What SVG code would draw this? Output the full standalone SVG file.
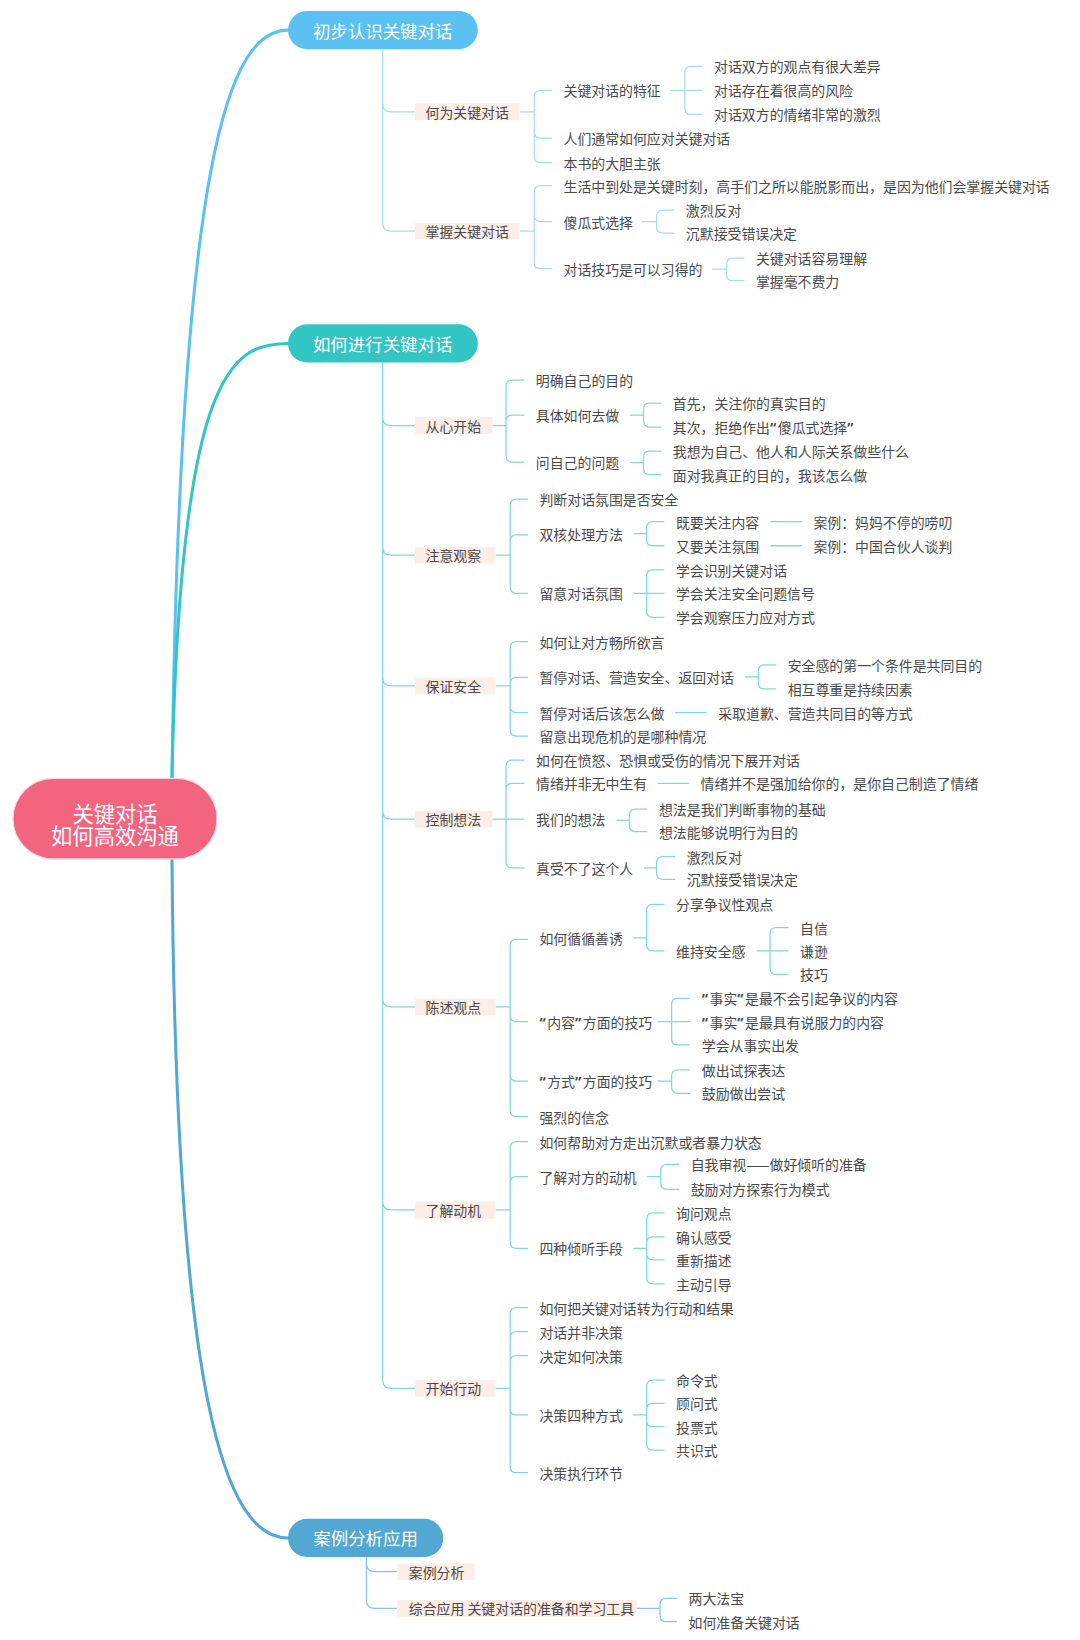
<svg xmlns="http://www.w3.org/2000/svg" width="1080" height="1640" viewBox="0 0 1080 1640">
<style>
text{font-family:"Noto Sans CJK SC","Noto Sans",sans-serif;dominant-baseline:central}
.t{font-size:13.3px;fill:#4a4a4a}
.q{font-family:"Noto Sans","Noto Sans CJK SC",sans-serif;letter-spacing:1.5px;font-weight:bold}
.tp{font-size:16.7px;fill:#ffffff;text-anchor:middle}
.tr{font-size:20.4px;fill:#ffffff;text-anchor:middle}
.lb{fill:#FCEDE7}
.m{fill:none;stroke-width:2.9;stroke-linecap:round}
.c{fill:none;stroke-width:1.2}
.c1{stroke:#A6DBF6}
.c2{stroke:#83D7D4}
.c3{stroke:#8BC3E3}
</style>
<rect width="1080" height="1640" fill="#ffffff"/>
<g transform="scale(1.0455)">
<g id="connectors">
<path class="m" stroke="#5AC1F2" d="M164.5,745 C172.2,143.5 220,28.8 275.5,28.8"/>
<path class="m" stroke="#52A7D3" d="M164.5,821.5 C168.3,1339 215.2,1471 275.5,1471"/>
<path class="m" stroke="#33C5C3" d="M164.5,745 C172.2,353.9 221.9,328.5 275.5,328.5"/>
<path class="c c1" d="M366,47 V213 Q366,221 374,221 H397 M366,99 Q366,107 374,107 H397"/>
<path class="c c1" d="M497,107 H511 M511,107 V92.5 Q511,86.5 517,86.5 H528 M511,107 V126 Q511,132 517,132 H528 M511,107 V149.5 Q511,155.5 517,155.5 H528"/>
<path class="c c1" d="M641,86.5 H655 M655,86.5 V69.5 Q655,63.5 661,63.5 H672 M655,86.5 H672 M655,86.5 V103.5 Q655,109.5 661,109.5 H672"/>
<path class="c c1" d="M497,221 H511 M511,221 V183.5 Q511,177.5 517,177.5 H528 M511,221 V206 Q511,212 517,212 H528 M511,221 V251 Q511,257 517,257 H528"/>
<path class="c c1" d="M614,212 H628 M628,212 V207 Q628,201 634,201 H645 M628,212 V217 Q628,223 634,223 H645"/>
<path class="c c1" d="M681,257.5 H695 M695,257.5 V253 Q695,247 701,247 H712 M695,257.5 V262.5 Q695,268.5 701,268.5 H712"/>
<path class="c c2" d="M366,347 V1320 Q366,1328 374,1328 H397 M366,399 Q366,407 374,407 H397 M366,523 Q366,531 374,531 H397 M366,648 Q366,656 374,656 H397 M366,775.5 Q366,783.5 374,783.5 H397 M366,955 Q366,963 374,963 H397 M366,1149.3 Q366,1157.3 374,1157.3 H397"/>
<path class="c c2" d="M471,407 H484 M484,407 V369.5 Q484,363.5 490,363.5 H501.5 M484,407 V403 Q484,397 490,397 H501.5 M484,407 V436 Q484,442 490,442 H501.5"/>
<path class="c c2" d="M602.5,397 H615.5 M615.5,397 V391.5 Q615.5,385.5 621.5,385.5 H632.5 M615.5,397 V402.5 Q615.5,408.5 621.5,408.5 H632.5"/>
<path class="c c2" d="M602.5,442.5 H615.5 M615.5,442.5 V437.5 Q615.5,431.5 621.5,431.5 H632.5 M615.5,442.5 V448 Q615.5,454 621.5,454 H632.5"/>
<path class="c c2" d="M474,531 H488 M488,531 V483.3 Q488,477.3 494,477.3 H505 M488,531 V517.7 Q488,511.7 494,511.7 H505 M488,531 V561.5 Q488,567.5 494,567.5 H505"/>
<path class="c c2" d="M606,510.5 H618.5 M618.5,510.5 V505 Q618.5,499 624.5,499 H635.5 M618.5,510.5 V516 Q618.5,522 624.5,522 H635.5 M737,499 H767 M737,522 H767"/>
<path class="c c2" d="M606,567.5 H618.5 M618.5,567.5 V551 Q618.5,545 624.5,545 H635.5 M618.5,567.5 H635.5 M618.5,567.5 V584.4 Q618.5,590.4 624.5,590.4 H635.5"/>
<path class="c c2" d="M474,656 H488 M488,656 V619.7 Q488,613.7 494,613.7 H505 M488,656 V653.9 Q488,647.9 494,647.9 H505 M488,656 V675.6 Q488,681.6 494,681.6 H505 M488,656 V698 Q488,704 494,704 H505"/>
<path class="c c2" d="M712.6,647.5 H725.3 M725.3,647.5 V642 Q725.3,636 731.3,636 H742.4 M725.3,647.5 V653 Q725.3,659 731.3,659 H742.4 M645.6,681.6 H676"/>
<path class="c c2" d="M471,783.5 H484 M484,783.5 V733 Q484,727 490,727 H501.7 M484,783.5 V755.3 Q484,749.3 490,749.3 H501.7 M484,783.5 H501.7 M484,783.5 V824 Q484,830 490,830 H501.7 M629,749.3 H659"/>
<path class="c c2" d="M589.8,784.7 H602 M602,784.7 V780 Q602,774 608,774 H619.3 M602,784.7 V789.5 Q602,795.5 608,795.5 H619.3"/>
<path class="c c2" d="M616,830.2 H628 M628,830.2 V825.4 Q628,819.4 634,819.4 H645.8 M628,830.2 V835 Q628,841 634,841 H645.8"/>
<path class="c c2" d="M474,963 H488 M488,963 V904.4 Q488,898.4 494,898.4 H505 M488,963 V971.2 Q488,977.2 494,977.2 H505 M488,963 V1028 Q488,1034 494,1034 H505 M488,963 V1062 Q488,1068 494,1068 H505"/>
<path class="c c2" d="M605.6,897 H618.5 M618.5,897 V871 Q618.5,865 624.5,865 H635.6 M618.5,897 V903.6 Q618.5,909.6 624.5,909.6 H635.6"/>
<path class="c c2" d="M723.7,909.6 H736.5 M736.5,909.6 V893.3 Q736.5,887.3 742.5,887.3 H754.2 M736.5,909.6 H754.2 M736.5,909.6 V926 Q736.5,932 742.5,932 H754.2"/>
<path class="c c2" d="M629,977.2 H642.4 M642.4,977.2 V961 Q642.4,955 648.4,955 H660.2 M642.4,977.2 H660.2 M642.4,977.2 V993.5 Q642.4,999.5 648.4,999.5 H660.2"/>
<path class="c c2" d="M629,1034 H642.4 M642.4,1034 V1029.4 Q642.4,1023.4 648.4,1023.4 H660.2 M642.4,1034 V1039.7 Q642.4,1045.7 648.4,1045.7 H660.2"/>
<path class="c c2" d="M474,1157.3 H488 M488,1157.3 V1098 Q488,1092 494,1092 H505 M488,1157.3 V1131.5 Q488,1125.5 494,1125.5 H505 M488,1157.3 V1188 Q488,1194 494,1194 H505"/>
<path class="c c2" d="M619,1125.5 H632 M632,1125.5 V1119.7 Q632,1113.7 638,1113.7 H649.6 M632,1125.5 V1131.6 Q632,1137.6 638,1137.6 H649.6"/>
<path class="c c2" d="M605.6,1194 H618.5 M618.5,1194 V1166 Q618.5,1160 624.5,1160 H635.6 M618.5,1194 V1189 Q618.5,1183 624.5,1183 H635.6 M618.5,1194 V1199 Q618.5,1205 624.5,1205 H635.6 M618.5,1194 V1222 Q618.5,1228 624.5,1228 H635.6"/>
<path class="c c2" d="M474,1328 H488 M488,1328 V1256.8 Q488,1250.8 494,1250.8 H505 M488,1328 V1279.7 Q488,1273.7 494,1273.7 H505 M488,1328 V1302.7 Q488,1296.7 494,1296.7 H505 M488,1328 V1347.4 Q488,1353.4 494,1353.4 H505 M488,1328 V1402.6 Q488,1408.6 494,1408.6 H505"/>
<path class="c c2" d="M605.6,1353.4 H618.5 M618.5,1353.4 V1326 Q618.5,1320 624.5,1320 H635.6 M618.5,1353.4 V1348.3 Q618.5,1342.3 624.5,1342.3 H635.6 M618.5,1353.4 V1358.6 Q618.5,1364.6 624.5,1364.6 H635.6 M618.5,1353.4 V1381 Q618.5,1387 624.5,1387 H635.6"/>
<path class="c c3" d="M350.5,1488 V1530.3 Q350.5,1538.3 358.5,1538.3 H380 M350.5,1495.3 Q350.5,1503.3 358.5,1503.3 H380"/>
<path class="c c3" d="M609,1538.3 H631.3 M631.3,1538.3 V1534.8 Q631.3,1528.8 637.3,1528.8 H647.6 M631.3,1538.3 V1545.1 Q631.3,1551.1 637.3,1551.1 H647.6"/>
</g>
<g id="root"><rect x="12.5" y="744.5" width="195" height="77" rx="38.5" fill="#F3657F" stroke="#fbd3db" stroke-width="1"/><text class="tr" x="110" y="776.2"><tspan x="110">关键对话</tspan><tspan x="110" dy="21.3">如何高效沟通</tspan></text></g>
<g id="topic1"><rect x="275.5" y="10.5" width="181.5" height="36.5" rx="18.25" fill="#5AC1F2"/><text class="tp" x="366" y="29">初步认识关键对话</text></g>
<g id="topic2"><rect x="275.5" y="310.2" width="181.5" height="36.6" rx="18.3" fill="#33C5C3"/><text class="tp" x="366" y="328.7">如何进行关键对话</text></g>
<g id="topic3"><rect x="275.5" y="1452.7" width="148.5" height="36.6" rx="18.3" fill="#52A7D3"/><text class="tp" x="349.7" y="1471">案例分析应用</text></g>
<g id="l-a"><rect class="lb" x="397" y="99" width="100" height="16"/><text class="t" x="407" y="107">何为关键对话</text></g>
<g id="l-b"><rect class="lb" x="397" y="213" width="100" height="16"/><text class="t" x="407" y="221">掌握关键对话</text></g>
<g id="l-c"><rect class="lb" x="397" y="399" width="74" height="16"/><text class="t" x="407" y="407">从心开始</text></g>
<g id="l-d"><rect class="lb" x="397" y="523" width="77" height="16"/><text class="t" x="407" y="531">注意观察</text></g>
<g id="l-e"><rect class="lb" x="397" y="648" width="77" height="16"/><text class="t" x="407" y="656">保证安全</text></g>
<g id="l-f"><rect class="lb" x="397" y="775.5" width="74" height="16"/><text class="t" x="407" y="783.5">控制想法</text></g>
<g id="l-g"><rect class="lb" x="397" y="955" width="77" height="16"/><text class="t" x="407" y="963">陈述观点</text></g>
<g id="l-h"><rect class="lb" x="397" y="1149.3" width="77" height="16"/><text class="t" x="407" y="1157.3">了解动机</text></g>
<g id="l-i"><rect class="lb" x="397" y="1320" width="77" height="16"/><text class="t" x="407" y="1328">开始行动</text></g>
<g id="l-j"><rect class="lb" x="380" y="1495.3" width="74" height="16"/><text class="t" x="391" y="1503.3">案例分析</text></g>
<g id="l-k"><rect class="lb" x="380" y="1530.3" width="229" height="16"/><text class="t" x="391" y="1538.3">综合应用 关键对话的准备和学习工具</text></g>
<g id="t1-nodes">
<g id="n1"><text class="t" x="539" y="86.5">关键对话的特征</text></g>
<g id="n2"><text class="t" x="539" y="132">人们通常如何应对关键对话</text></g>
<g id="n3"><text class="t" x="539" y="155.5">本书的大胆主张</text></g>
<g id="n4"><text class="t" x="683" y="63.5">对话双方的观点有很大差异</text></g>
<g id="n5"><text class="t" x="683" y="86.5">对话存在着很高的风险</text></g>
<g id="n6"><text class="t" x="683" y="109.5">对话双方的情绪非常的激烈</text></g>
<g id="n7"><text class="t" x="539" y="177.5">生活中到处是关键时刻，高手们之所以能脱影而出，是因为他们会掌握关键对话</text></g>
<g id="n8"><text class="t" x="539" y="212">傻瓜式选择</text></g>
<g id="n9"><text class="t" x="539" y="257">对话技巧是可以习得的</text></g>
<g id="n10"><text class="t" x="656" y="201">激烈反对</text></g>
<g id="n11"><text class="t" x="656" y="223">沉默接受错误决定</text></g>
<g id="n12"><text class="t" x="723" y="247">关键对话容易理解</text></g>
<g id="n13"><text class="t" x="723" y="268.5">掌握毫不费力</text></g>
</g>
<g id="t2-nodes">
<g id="n14"><text class="t" x="512.5" y="363.5">明确自己的目的</text></g>
<g id="n15"><text class="t" x="512.5" y="397">具体如何去做</text></g>
<g id="n16"><text class="t" x="512.5" y="442">问自己的问题</text></g>
<g id="n17"><text class="t" x="643.5" y="385.5">首先，关注你的真实目的</text></g>
<g id="n18"><text class="t" x="643.5" y="408.5">其次，拒绝作出<tspan class="q">“</tspan>傻瓜式选择<tspan class="q">”</tspan></text></g>
<g id="n19"><text class="t" x="643.5" y="431.5">我想为自己、他人和人际关系做些什么</text></g>
<g id="n20"><text class="t" x="643.5" y="454">面对我真正的目的，我该怎么做</text></g>
<g id="n21"><text class="t" x="516" y="477.3">判断对话氛围是否安全</text></g>
<g id="n22"><text class="t" x="516" y="511">双核处理方法</text></g>
<g id="n23"><text class="t" x="516" y="567.5">留意对话氛围</text></g>
<g id="n24"><text class="t" x="646.5" y="499">既要关注内容</text></g>
<g id="n25"><text class="t" x="646.5" y="522">又要关注氛围</text></g>
<g id="n26"><text class="t" x="778" y="499">案例：妈妈不停的唠叨</text></g>
<g id="n27"><text class="t" x="778" y="522">案例：中国合伙人谈判</text></g>
<g id="n28"><text class="t" x="646.5" y="545">学会识别关键对话</text></g>
<g id="n29"><text class="t" x="646.5" y="567.5">学会关注安全问题信号</text></g>
<g id="n30"><text class="t" x="646.5" y="590.4">学会观察压力应对方式</text></g>
<g id="n31"><text class="t" x="516" y="613.7">如何让对方畅所欲言</text></g>
<g id="n32"><text class="t" x="516" y="647.9">暂停对话、营造安全、返回对话</text></g>
<g id="n33"><text class="t" x="516" y="681.6">暂停对话后该怎么做</text></g>
<g id="n34"><text class="t" x="516" y="704">留意出现危机的是哪种情况</text></g>
<g id="n35"><text class="t" x="753.4" y="636">安全感的第一个条件是共同目的</text></g>
<g id="n36"><text class="t" x="753.4" y="659">相互尊重是持续因素</text></g>
<g id="n37"><text class="t" x="687" y="681.6">采取道歉、营造共同目的等方式</text></g>
<g id="n38"><text class="t" x="512.7" y="727">如何在愤怒、恐惧或受伤的情况下展开对话</text></g>
<g id="n39"><text class="t" x="512.7" y="749.3">情绪并非无中生有</text></g>
<g id="n40"><text class="t" x="512.7" y="783.5">我们的想法</text></g>
<g id="n41"><text class="t" x="512.7" y="830">真受不了这个人</text></g>
<g id="n42"><text class="t" x="670" y="749.3">情绪并不是强加给你的，是你自己制造了情绪</text></g>
<g id="n43"><text class="t" x="630.3" y="774">想法是我们判断事物的基础</text></g>
<g id="n44"><text class="t" x="630.3" y="795.5">想法能够说明行为目的</text></g>
<g id="n45"><text class="t" x="656.8" y="819.4">激烈反对</text></g>
<g id="n46"><text class="t" x="656.8" y="841">沉默接受错误决定</text></g>
<g id="n47"><text class="t" x="516" y="897">如何循循善诱</text></g>
<g id="n48"><text class="t" x="516" y="977.2"><tspan class="q">“</tspan>内容<tspan class="q">”</tspan>方面的技巧</text></g>
<g id="n49"><text class="t" x="516" y="1034"><tspan class="q">“</tspan>方式<tspan class="q">”</tspan>方面的技巧</text></g>
<g id="n50"><text class="t" x="516" y="1068">强烈的信念</text></g>
<g id="n51"><text class="t" x="646.6" y="865">分享争议性观点</text></g>
<g id="n52"><text class="t" x="646.6" y="909.6">维持安全感</text></g>
<g id="n53"><text class="t" x="765.2" y="887.3">自信</text></g>
<g id="n54"><text class="t" x="765.2" y="909.6">谦逊</text></g>
<g id="n55"><text class="t" x="765.2" y="932">技巧</text></g>
<g id="n56"><text class="t" x="671.2" y="955"><tspan class="q">“</tspan>事实<tspan class="q">”</tspan>是最不会引起争议的内容</text></g>
<g id="n57"><text class="t" x="671.2" y="977.2"><tspan class="q">“</tspan>事实<tspan class="q">”</tspan>是最具有说服力的内容</text></g>
<g id="n58"><text class="t" x="671.2" y="999.5">学会从事实出发</text></g>
<g id="n59"><text class="t" x="671.2" y="1023.4">做出试探表达</text></g>
<g id="n60"><text class="t" x="671.2" y="1045.7">鼓励做出尝试</text></g>
<g id="n61"><text class="t" x="516" y="1092">如何帮助对方走出沉默或者暴力状态</text></g>
<g id="n62"><text class="t" x="516" y="1125.5">了解对方的动机</text></g>
<g id="n63"><text class="t" x="516" y="1194">四种倾听手段</text></g>
<g id="n64"><text class="t" x="660.6" y="1113.7">自我审视——做好倾听的准备</text></g>
<g id="n65"><text class="t" x="660.6" y="1137.6">鼓励对方探索行为模式</text></g>
<g id="n66"><text class="t" x="646.6" y="1160">询问观点</text></g>
<g id="n67"><text class="t" x="646.6" y="1183">确认感受</text></g>
<g id="n68"><text class="t" x="646.6" y="1205">重新描述</text></g>
<g id="n69"><text class="t" x="646.6" y="1228">主动引导</text></g>
<g id="n70"><text class="t" x="516" y="1250.8">如何把关键对话转为行动和结果</text></g>
<g id="n71"><text class="t" x="516" y="1273.7">对话并非决策</text></g>
<g id="n72"><text class="t" x="516" y="1296.7">决定如何决策</text></g>
<g id="n73"><text class="t" x="516" y="1353.4">决策四种方式</text></g>
<g id="n74"><text class="t" x="516" y="1408.6">决策执行环节</text></g>
<g id="n75"><text class="t" x="646.6" y="1320">命令式</text></g>
<g id="n76"><text class="t" x="646.6" y="1342.3">顾问式</text></g>
<g id="n77"><text class="t" x="646.6" y="1364.6">投票式</text></g>
<g id="n78"><text class="t" x="646.6" y="1387">共识式</text></g>
</g>
<g id="t3-nodes">
<g id="n79"><text class="t" x="658.6" y="1528.8">两大法宝</text></g>
<g id="n80"><text class="t" x="658.6" y="1551.1">如何准备关键对话</text></g>
</g>
</g>
</svg>
